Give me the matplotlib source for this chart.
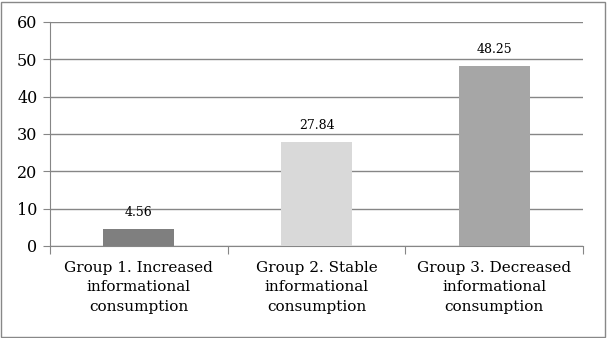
import matplotlib.pyplot as plt
from matplotlib.patches import Rectangle

categories = [
    "Group 1. Increased\ninformational\nconsumption",
    "Group 2. Stable\ninformational\nconsumption",
    "Group 3. Decreased\ninformational\nconsumption",
]
values = [4.56, 27.84, 48.25]
bar_colors = ["#7f7f7f", "#d9d9d9", "#a6a6a6"]
y_ticks = [0, 10, 20, 30, 40, 50, 60]

plt.rcParams["font.family"] = ["DejaVu Serif"]

fig = plt.figure(figsize=(6.07, 3.38), dpi=100)
ax = fig.add_axes([50 / 607, 92 / 338, 533 / 607, 224 / 338])

x = range(len(categories))
ax.bar(x, values, width=0.4, color=bar_colors, zorder=3)
for xi, v in zip(x, values):
    ax.text(xi, v + 2.6, f"{v:.2f}", ha="center", va="bottom", fontsize=9)

ax.set_xlim(-0.5, len(categories) - 0.5)
ax.set_ylim(0, 60)
ax.set_yticks(y_ticks)
ax.tick_params(axis="y", labelsize=11.5, length=5, color="#868686", pad=4)
ax.yaxis.grid(True, color="#868686", linewidth=1, zorder=0)

ax.set_xticks([i + 0.5 for i in range(-1, len(categories))])
ax.set_xticklabels([])
ax.tick_params(axis="x", length=6, color="#868686")
for xi, label in zip(x, categories):
    ax.text(xi, -4.0, label, ha="center", va="top", fontsize=11,
            linespacing=1.5)

for side in ["top", "right"]:
    ax.spines[side].set_visible(False)
for side in ["left", "bottom"]:
    ax.spines[side].set_color("#868686")

fig.patches.append(Rectangle((1 / 607, 1 / 338), 604 / 607, 335 / 338,
                             transform=fig.transFigure, fill=False,
                             edgecolor="#888888", linewidth=1))

fig.savefig("out.png", dpi=100)
